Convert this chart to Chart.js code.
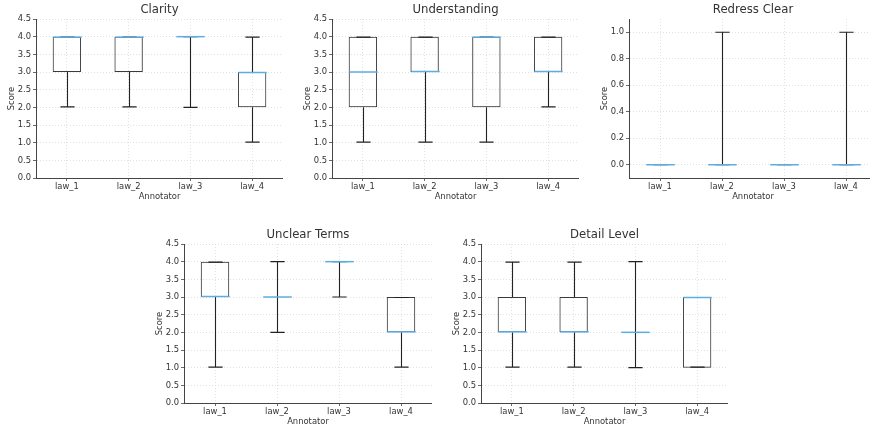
<!DOCTYPE html>
<html>
<head>
<meta charset="utf-8">
<script src="https://cdn.jsdelivr.net/npm/chart.js@4"></script>
<style>
  html, body { margin: 0; padding: 0; background: #fff; width: 870px; height: 430px; overflow: hidden; position: relative; }
  canvas { position: absolute; }
</style>
</head>
<body>
<script>
const annotators = ['law_1', 'law_2', 'law_3', 'law_4'];
// five-number summary per annotator: [min, q1, median, q3, max]
const clarity       = [[2, 3, 4, 4, 4], [2, 3, 4, 4, 4], [2, 4, 4, 4, 4], [1, 2, 3, 3, 4]];
const understanding = [[1, 2, 3, 4, 4], [1, 3, 3, 4, 4], [1, 2, 4, 4, 4], [2, 3, 3, 4, 4]];
const redressClear  = [[0, 0, 0, 0, 0], [0, 0, 0, 0, 1], [0, 0, 0, 0, 0], [0, 0, 0, 0, 1]];
const unclearTerms  = [[1, 3, 3, 4, 4], [2, 3, 3, 3, 4], [3, 4, 4, 4, 4], [1, 2, 2, 3, 3]];
const detailLevel   = [[1, 2, 2, 3, 4], [1, 2, 2, 3, 4], [1, 2, 2, 2, 4], [1, 1, 3, 3, 3]];
const scoreTicks   = [0, 0.5, 1, 1.5, 2, 2.5, 3, 3.5, 4, 4.5];
const redressTicks = [0, 0.2, 0.4, 0.6, 0.8, 1.0];

// plot area in page pixels: [left, top, right, bottom]
const panels = [
  { title: 'Clarity',       stats: clarity,       ticks: scoreTicks,   min: 0,    max: 4.5, plot: [36, 19, 283, 178] },
  { title: 'Understanding', stats: understanding, ticks: scoreTicks,   min: 0,    max: 4.5, plot: [332, 19, 579, 178] },
  { title: 'Redress Clear', stats: redressClear,  ticks: redressTicks, min: -0.1, max: 1.1, plot: [629, 19, 877, 178] },
  { title: 'Unclear Terms', stats: unclearTerms,  ticks: scoreTicks,   min: 0,    max: 4.5, plot: [184, 244, 432, 403] },
  { title: 'Detail Level',  stats: detailLevel,   ticks: scoreTicks,   min: 0,    max: 4.5, plot: [481, 244, 728, 403] },
];

const FONT = 'DejaVu Sans';
const TEXT = '#333';
const AXIS = '#444';
const GRID = '#d9d9d9';
const MEDIAN = '#5dade2';
const Y_W = 36, X_H = 26, TOP = 19;

const boxPlugin = {
  id: 'boxdraw',
  afterDatasetsDraw(chart, args, opts) {
    const { ctx } = chart;
    const x = chart.scales.x, y = chart.scales.y;
    const meta = chart.getDatasetMeta(0);
    ctx.save();
    opts.stats.forEach((s, i) => {
      const [mn, q1, med, q3, mx] = s;
      // line sits on the bar border when it shares a value with the box edge
      const py = v => y.getPixelForValue(v) + (q1 === q3 ? 0 : v >= q3 ? 0.5 : v <= q1 ? -0.5 : 0);
      const cx = Math.round(x.getPixelForValue(i)) + 0.5;
      const half = meta.data[i].width / 2;
      const cap = half / 2;
      ctx.strokeStyle = '#222';
      ctx.lineWidth = 1.1;
      ctx.beginPath();
      ctx.moveTo(cx, y.getPixelForValue(q3));
      ctx.lineTo(cx, y.getPixelForValue(mx));
      ctx.moveTo(cx, y.getPixelForValue(q1));
      ctx.lineTo(cx, y.getPixelForValue(mn));
      ctx.moveTo(cx - cap, py(mx));
      ctx.lineTo(cx + cap, py(mx));
      ctx.moveTo(cx - cap, py(mn));
      ctx.lineTo(cx + cap, py(mn));
      ctx.stroke();
      ctx.strokeStyle = MEDIAN;
      ctx.lineWidth = 1.5;
      ctx.beginPath();
      ctx.moveTo(cx - half, py(med));
      ctx.lineTo(cx + half, py(med));
      ctx.stroke();
    });
    ctx.restore();
  },
  afterDraw(chart, args, opts) {
    const { ctx, chartArea } = chart;
    ctx.save();
    ctx.fillStyle = TEXT;
    ctx.font = `11.7px "${FONT}"`;
    ctx.textAlign = 'center';
    ctx.textBaseline = 'middle';
    ctx.fillText(opts.title, (chartArea.left + chartArea.right) / 2, chartArea.top - 9);
    ctx.restore();
  }
};

panels.forEach(p => {
  const [l, t, r, b] = p.plot;
  const c = document.createElement('canvas');
  const w = r - l + Y_W, h = b - t + TOP + X_H;
  c.width = w; c.height = h;
  c.style.left = (l - Y_W) + 'px';
  c.style.top = (t - TOP) + 'px';
  c.style.width = w + 'px';
  c.style.height = h + 'px';
  document.body.appendChild(c);

  const tickFont = { family: FONT, size: 8.4 };
  new Chart(c, {
    type: 'bar',
    data: {
      labels: annotators,
      datasets: [{
        data: p.stats.map(s => [s[1], s[3]]),
        backgroundColor: 'rgba(0,0,0,0)',
        borderColor: '#3a3a3a',
        borderWidth: 1,
        borderSkipped: false,
        barPercentage: 0.46,
        categoryPercentage: 1,
      }],
    },
    options: {
      responsive: false,
      animation: false,
      events: [],
      layout: { padding: { top: TOP, left: 0, right: 0, bottom: 0 } },
      plugins: {
        legend: { display: false },
        tooltip: { enabled: false },
        boxdraw: { stats: p.stats, title: p.title },
      },
      scales: {
        x: {
          grid: { offset: false, color: GRID, lineWidth: 0.8, tickLength: 3, tickColor: AXIS, tickBorderDash: [] },
          border: { color: AXIS, width: 1, dash: [1, 2] },
          ticks: { color: TEXT, font: tickFont, padding: 1, maxRotation: 0 },
          title: { display: true, text: 'Annotator', color: TEXT, font: tickFont, padding: { top: 0, bottom: 2 } },
          afterFit: s => { s.height = X_H; },
        },
        y: {
          min: p.min,
          max: p.max,
          afterBuildTicks: s => { s.ticks = p.ticks.map(v => ({ value: v })); },
          grid: { color: GRID, lineWidth: 0.8, tickLength: 3, tickColor: AXIS, tickBorderDash: [] },
          border: { color: AXIS, width: 1, dash: [1, 2] },
          ticks: { color: TEXT, font: tickFont, padding: 2, callback: v => v.toFixed(1) },
          title: { display: true, text: 'Score', color: TEXT, font: tickFont, padding: { top: 7, bottom: 0 } },
          afterFit: s => { s.width = Y_W; },
        },
      },
    },
    plugins: [boxPlugin],
  });
});
</script>
</body>
</html>
